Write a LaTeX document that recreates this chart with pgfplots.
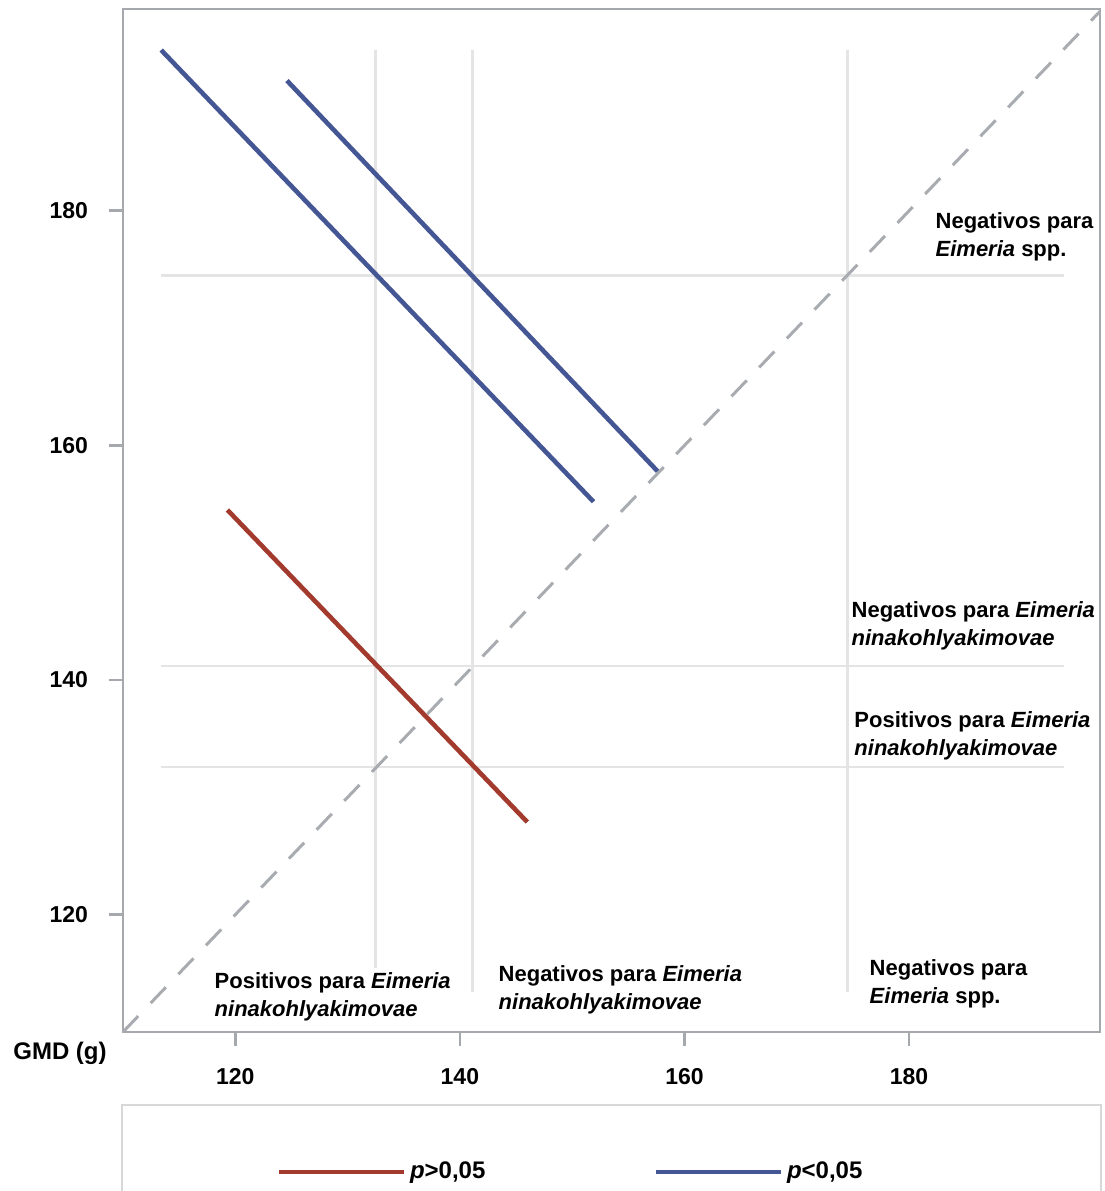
\documentclass[border=0pt]{standalone}
\usepackage{fontspec}
\setmainfont{Liberation Sans}
\usepackage{pgfplots}
\pgfplotsset{compat=1.18}
\definecolor{sasblue}{HTML}{445694}
\definecolor{sasred}{HTML}{A23A2E}
\definecolor{framegray}{HTML}{A5A8AC}
\definecolor{gridgray}{HTML}{E4E4E4}
\definecolor{diaggray}{HTML}{A8ACB0}
\definecolor{legendgray}{HTML}{D8D8D8}
\begin{document}
\begin{tikzpicture}
\path[use as bounding box] (-61.5pt,-79.5pt) rectangle (491pt,516pt);
\begin{axis}[
  scale only axis, width=488.5pt, height=511.5pt,
  xmin=110, xmax=197, ymin=110, ymax=197.2,
  xtick={120,140,160,180}, ytick={120,140,160,180},
  xtick pos=left, ytick pos=left,
  axis line style={framegray, line width=1.3pt},
  tick style={framegray, line width=1.3pt},
  tick align=outside, major tick length=7pt,
  ticklabel style={font=\fontsize{11.5}{13}\selectfont\bfseries},
  yticklabel style={xshift=-7pt},
  xticklabel style={yshift=-7.5pt},
  /pgf/number format/assume math mode=true,
  clip=false,
  legend columns=2,
  legend style={at={(0.1505,-0.1369)}, anchor=west, draw=none, fill=none,
    font=\fontsize{12}{14}\selectfont\bfseries,
    /tikz/every even column/.append style={column sep=82pt}},
  legend image code/.code={\draw[#1] (0pt,0pt) -- (62.5pt,0pt);},
]
% reference grid lines (group means)
\addplot[gridgray, line width=1.3pt, forget plot] coordinates {(113.4,174.5) (193.8,174.5)};
\addplot[gridgray, line width=1.3pt, forget plot] coordinates {(113.4,141.2) (193.8,141.2)};
\addplot[gridgray, line width=1.3pt, forget plot] coordinates {(113.4,132.6) (193.8,132.6)};
\addplot[gridgray, line width=1.3pt, forget plot] coordinates {(132.5,113.4) (132.5,193.7)};
\addplot[gridgray, line width=1.3pt, forget plot] coordinates {(141.1,113.4) (141.1,193.7)};
\addplot[gridgray, line width=1.3pt, forget plot] coordinates {(174.5,113.4) (174.5,193.7)};
% identity line
\addplot[diaggray, line width=1.5pt, dash pattern=on 11pt off 9pt, forget plot] coordinates {(110,110) (197,197)};
% regression lines
\addplot[sasred, line width=2.3pt] coordinates {(119.3,154.5) (146.0,127.9)};
\addlegendentry{\textit{p}>0,05}
\addplot[sasblue, line width=2.3pt] coordinates {(113.4,193.7) (151.9,155.2)};
\addlegendentry{\textit{p}<0,05}
\addplot[sasblue, line width=2.3pt, forget plot] coordinates {(124.6,191.1) (157.6,157.8)};
% annotations
\tikzset{ann/.style={anchor=west, align=left, fill=white, inner xsep=0pt, inner ysep=2pt,
  font=\fontsize{11}{14}\selectfont\bfseries}}
\node[ann] at (axis cs:182.33,177.8) {Negativos para\\\textit{Eimeria} spp.};
\node[ann] at (axis cs:174.85,144.65) {Negativos para \textit{Eimeria}\\\textit{ninakohlyakimovae}};
\node[ann] at (axis cs:175.1,135.26) {Positivos para \textit{Eimeria}\\\textit{ninakohlyakimovae}};
\node[ann] at (axis cs:118.13,113.04) {Positivos para \textit{Eimeria}\\\textit{ninakohlyakimovae}};
\node[ann] at (axis cs:143.42,113.6) {Negativos para \textit{Eimeria}\\\textit{ninakohlyakimovae}};
\node[ann] at (axis cs:176.46,114.1) {Negativos para\\\textit{Eimeria} spp.};
\end{axis}
\node[font=\fontsize{12}{14}\selectfont\bfseries] at (-31.5pt,-10.5pt) {GMD (g)};
\draw[legendgray, line width=1pt] (-0.5pt,-36.5pt) rectangle (489pt,-130pt);
\end{tikzpicture}
\end{document}
